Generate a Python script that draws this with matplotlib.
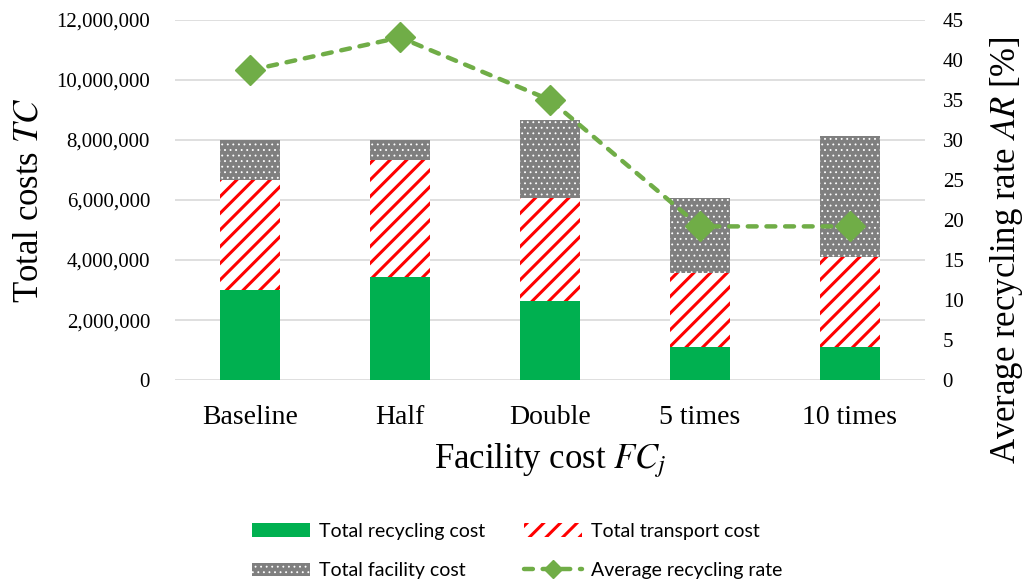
import numpy as np
import matplotlib
matplotlib.use('Agg')
import matplotlib.pyplot as plt
from matplotlib.patches import Patch, Rectangle
from matplotlib.lines import Line2D
from matplotlib.legend_handler import HandlerPatch
from matplotlib.ticker import FuncFormatter, MultipleLocator

# Scenario data
scenarios = ['Baseline', 'Half', 'Double', '5 times', '10 times']
recycling_cost = [3000000, 3430000, 2650000, 1110000, 1110000]
transport_cost = [3670000, 3900000, 3420000, 2460000, 3000000]
facility_cost = [1330000, 670000, 2600000, 2500000, 4020000]
recycling_rate = [38.7, 42.8, 35.0, 19.2, 19.2]

plt.rcParams['font.family'] = 'Liberation Serif'
plt.rcParams['mathtext.fontset'] = 'stix'
plt.rcParams['hatch.linewidth'] = 2.2

green = '#00b050'
red = '#ff0000'
gray = '#7f7f7f'
line_green = '#70ad47'


def thin_dots(patch):
    # white dots on gray need a much finer hatch stroke than the stripes
    if hasattr(patch, 'set_hatch_linewidth'):
        patch.set_hatch_linewidth(0.6)
    return patch


def dotted_box(legend, orig_handle, xdescent, ydescent, width, height, fontsize):
    return thin_dots(Rectangle((-xdescent, -ydescent), width, height,
                               facecolor=gray, edgecolor='white', hatch='...',
                               linewidth=0))


fig = plt.figure(figsize=(10.24, 5.83), dpi=100)
ax = fig.add_axes([0.171, 0.348, 0.732, 0.618])
ax2 = ax.twinx()

x = np.arange(len(scenarios))
w = 0.4
rc = np.array(recycling_cost)
tc = np.array(transport_cost)
fc = np.array(facility_cost)

ax.bar(x, rc, w, color=green, linewidth=0, zorder=2)
ax.bar(x, tc, w, bottom=rc, facecolor='white', edgecolor=red, hatch='//',
       linewidth=0, zorder=2)
bars = ax.bar(x, fc, w, bottom=rc + tc, facecolor=gray, edgecolor='white',
              hatch='...', linewidth=0, zorder=2)
for b in bars:
    thin_dots(b)

ax2.plot(x, recycling_rate, color=line_green, lw=3.2, dashes=(2.0, 2.2),
         dash_capstyle='round', marker='D', markersize=15, zorder=3)

ax.set_xlim(-0.5, len(scenarios) - 0.5)
ax.set_ylim(0, 12000000)
ax.yaxis.set_major_locator(MultipleLocator(2000000))
ax.yaxis.set_major_formatter(FuncFormatter(lambda v, p: f'{int(v):,}'))
ax2.set_ylim(0, 45)
ax2.yaxis.set_major_locator(MultipleLocator(5))

ax.grid(axis='y', color='#d9d9d9', lw=1.2, zorder=0)
ax.set_axisbelow(True)
for a in (ax, ax2):
    for s in a.spines.values():
        s.set_visible(False)
    a.tick_params(length=0)
ax.set_zorder(ax2.get_zorder() - 1)
ax.patch.set_visible(False)

ax.set_xticks(x)
ax.set_xticklabels(scenarios, fontsize=20)
ax.tick_params(axis='x', pad=18)
ax.tick_params(axis='y', labelsize=15, pad=18)
ax2.tick_params(axis='y', labelsize=15, pad=13)

ax.set_xlabel('Facility cost $FC_j$', fontsize=25, labelpad=8)
ax.set_ylabel('Total costs $TC$', fontsize=25, labelpad=8)
ax2.set_ylabel('Average recycling rate $AR$ [%]', fontsize=25)
ax2.yaxis.set_label_coords(1.085, 0.36)

facility_handle = Patch(facecolor=gray, edgecolor='white', hatch='...', linewidth=0)
handles = [
    Patch(facecolor=green, linewidth=0),
    facility_handle,
    Patch(facecolor='white', edgecolor=red, hatch='//', linewidth=0),
    Line2D([], [], color=line_green, lw=3.2, dashes=(2.0, 2.2),
           dash_capstyle='round', marker='D', markersize=9),
]
labels = ['Total recycling cost', 'Total facility cost',
          'Total transport cost', 'Average recycling rate']
fig.legend(handles, labels, loc='center', bbox_to_anchor=(0.505, 0.055), ncol=2,
           frameon=False, prop={'family': 'Lato', 'size': 14},
           handlelength=3.0, handleheight=0.7, handletextpad=0.45,
           columnspacing=2.0, labelspacing=1.15,
           handler_map={facility_handle: HandlerPatch(patch_func=dotted_box)})

fig.savefig('out.png', dpi=100)
